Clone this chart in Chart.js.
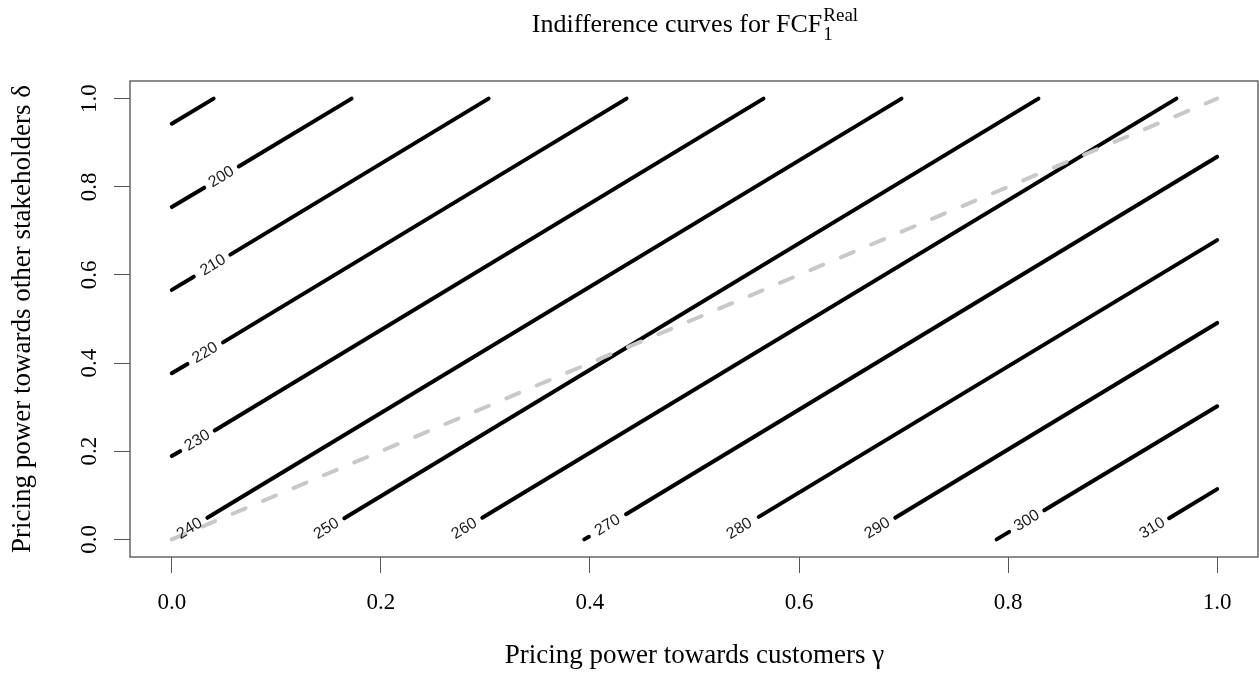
<!DOCTYPE html>
<html>
<head>
<meta charset="utf-8">
<script src="https://cdn.jsdelivr.net/npm/chart.js@4.4.1/dist/chart.umd.min.js"></script>
<style>
  html, body { margin: 0; padding: 0; background: #fff; }
  #wrap { width: 1259px; height: 674px; }
</style>
</head>
<body>
<div id="wrap"><canvas id="contourChart" width="1259" height="674"></canvas></div>
<script>
// contour levels, one per curve
const levels = [190, 200, 210, 220, 230, 240, 250, 260, 270, 280, 290, 300, 310];
// x / y of each curve; null = gap left for the label
const curveX = [
  [0, 0.040],
  [0, 0.031, null, 0.064, 0.172],
  [0, 0.021, null, 0.056, 0.303],
  [0, 0.015, null, 0.049, 0.435],
  [0, 0.008, null, 0.041, 0.566],
  [0.034, 0.698],
  [0.165, 0.829],
  [0.297, 0.961],
  [0.3945, 0.399, null, 0.4345, 1.0],
  [0.5615, 1.0],
  [0.692, 1.0],
  [0.789, 0.801, null, 0.8346, 1.0],
  [0.954, 1.0]
];
const curveY = [
  [0.943, 1.0],
  [0.754, 0.798, null, 0.846, 1.0],
  [0.566, 0.596, null, 0.646, 1.0],
  [0.377, 0.398, null, 0.447, 1.0],
  [0.189, 0.200, null, 0.247, 1.0],
  [0.049, 1.0],
  [0.048, 1.0],
  [0.049, 1.0],
  [0.0, 0.006, null, 0.057, 0.868],
  [0.051, 0.679],
  [0.049, 0.491],
  [0.0, 0.017, null, 0.066, 0.302],
  [0.048, 0.114]
];
// label centres (null = curve has no label)
const labelX = [null, 0.0475, 0.0395, 0.032, 0.0245, 0.017, 0.148, 0.280, 0.417, 0.543, 0.675, 0.818, 0.938];
const labelY = [null, 0.822, 0.622, 0.423, 0.224, 0.024, 0.024, 0.024, 0.032, 0.024, 0.025, 0.042, 0.025];
// grey dashed diagonal
const diagX = [0, 1];
const diagY = [0, 1];
const xTicks = [0, 0.2, 0.4, 0.6, 0.8, 1.0];
const yTicks = [0, 0.2, 0.4, 0.6, 0.8, 1.0];

const serif = "'Liberation Serif', 'Times New Roman', serif";

const datasets = [{
  label: 'diagonal',
  data: diagX.map((v, i) => ({x: v, y: diagY[i]})),
  borderColor: '#c8c8c8',
  borderWidth: 4,
  borderDash: [14, 19],
  borderCapStyle: 'round',
  pointRadius: 0,
  order: 0
}];
levels.forEach((lev, i) => {
  const pts = [];
  curveX[i].forEach((v, j) => {
    if (v === null) pts.push({x: curveX[i][j - 1], y: null});
    else pts.push({x: v, y: curveY[i][j]});
  });
  datasets.push({
    label: String(lev),
    data: pts,
    borderColor: '#000',
    borderWidth: 4,
    borderCapStyle: 'round',
    pointRadius: 0,
    spanGaps: false,
    order: 1
  });
});

const extras = {
  id: 'extras',
  afterDatasetsDraw(chart) {
    const {ctx, scales: {x, y}} = chart;
    ctx.save();
    ctx.font = "16px 'Liberation Sans', Arial, sans-serif";
    ctx.fillStyle = '#1a1a1a';
    ctx.textAlign = 'center';
    ctx.textBaseline = 'middle';
    levels.forEach((lev, i) => {
      if (labelX[i] === null) return;
      const xs = curveX[i], ys = curveY[i];
      const n = xs.length - 1;
      const ang = Math.atan2(
        y.getPixelForValue(ys[n]) - y.getPixelForValue(ys[0]),
        x.getPixelForValue(xs[n]) - x.getPixelForValue(xs[0]));
      ctx.save();
      ctx.translate(x.getPixelForValue(labelX[i]), y.getPixelForValue(labelY[i]));
      ctx.rotate(ang);
      ctx.fillText(String(lev), 0, 0);
      ctx.restore();
    });
    ctx.restore();
  },
  afterDraw(chart) {
    const {ctx, chartArea: a, scales: {y}} = chart;
    ctx.save();
    // box round the plot region
    ctx.strokeStyle = '#666';
    ctx.lineWidth = 1.5;
    ctx.strokeRect(a.left, a.top, a.right - a.left - 1, a.bottom - a.top);

    // y tick labels, parallel to the axis like R does
    ctx.fillStyle = '#000';
    ctx.font = '23px ' + serif;
    ctx.textAlign = 'center';
    ctx.textBaseline = 'alphabetic';
    yTicks.forEach(v => {
      ctx.save();
      ctx.translate(95.5, y.getPixelForValue(v));
      ctx.rotate(-Math.PI / 2);
      ctx.fillText(v.toFixed(1), 0, 0);
      ctx.restore();
    });

    // title with super / subscript
    const main = 'Indifference curves for FCF';
    ctx.font = '26px ' + serif;
    const wMain = ctx.measureText(main).width;
    ctx.font = '19px ' + serif;
    const wSup = ctx.measureText('Real').width;
    const x0 = (a.left + a.right) / 2 - (wMain + wSup) / 2;
    ctx.textAlign = 'left';
    ctx.font = '26px ' + serif;
    ctx.fillText(main, x0, 32);
    ctx.font = '19px ' + serif;
    ctx.fillText('Real', x0 + wMain + 1, 20.5);
    ctx.fillText('1', x0 + wMain + 1, 40);
    ctx.restore();
  }
};

new Chart(document.getElementById('contourChart'), {
  type: 'line',
  data: {datasets: datasets},
  options: {
    responsive: false,
    animation: false,
    events: [],
    layout: {padding: {top: 81, right: 0, left: 0, bottom: 0}},
    plugins: {legend: {display: false}, tooltip: {enabled: false}},
    scales: {
      x: {
        type: 'linear',
        min: -0.04,
        max: 1.04,
        afterBuildTicks: s => { s.ticks = xTicks.map(v => ({value: v})); },
        afterFit: s => { s.height = 117; },
        grid: {drawOnChartArea: false, drawTicks: true, tickLength: 16, color: '#555', lineWidth: 1},
        border: {display: false},
        ticks: {
          autoSkip: false,
          maxRotation: 0,
          padding: 16,
          color: '#000',
          font: {family: serif, size: 23},
          callback: v => Number(v).toFixed(1)
        },
        title: {
          display: true,
          text: 'Pricing power towards customers γ',
          color: '#000',
          font: {family: serif, size: 27},
          padding: {top: 0, bottom: 2}
        }
      },
      y: {
        type: 'linear',
        min: -0.04,
        max: 1.04,
        afterBuildTicks: s => { s.ticks = yTicks.map(v => ({value: v})); },
        afterFit: s => { s.width = 130; },
        grid: {drawOnChartArea: false, drawTicks: true, tickLength: 16, color: '#555', lineWidth: 1},
        border: {display: false},
        ticks: {display: false},
        title: {
          display: true,
          text: 'Pricing power towards other stakeholders δ',
          color: '#000',
          font: {family: serif, size: 27},
          padding: {top: 7, bottom: 0}
        }
      }
    }
  },
  plugins: [extras]
});
</script>
</body>
</html>
